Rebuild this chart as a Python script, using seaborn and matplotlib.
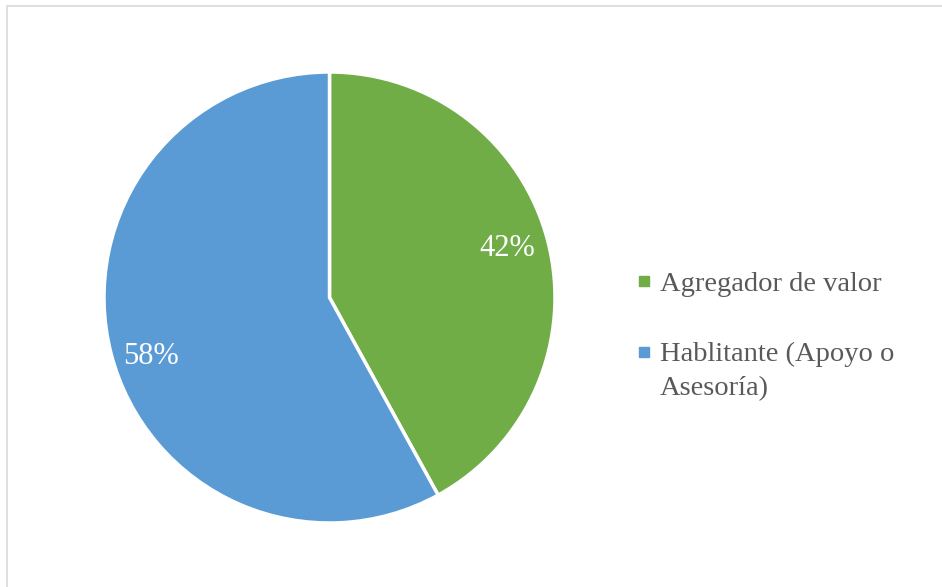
import matplotlib
matplotlib.use("Agg")
import numpy as np
import matplotlib.pyplot as plt
from matplotlib.lines import Line2D
from matplotlib.patches import Rectangle
from matplotlib.legend_handler import HandlerLine2D
import seaborn as sns

categories = ["Agregador de valor", "Hablitante (Apoyo o\nAsesoría)"]
values = [42, 58]
colors = ["#70AD47", "#5B9BD5"]

sns.set_theme(style="white")
plt.rcParams["font.family"] = ["Liberation Serif", "DejaVu Serif"]


class TopLineHandler(HandlerLine2D):
    """Align the marker with the first line of a multi-line label."""
    def __init__(self, shift, **kw):
        super().__init__(**kw)
        self.shift = shift

    def create_artists(self, legend, orig_handle, xdescent, ydescent,
                       width, height, fontsize, trans):
        arts = super().create_artists(legend, orig_handle, xdescent, ydescent,
                                      width, height, fontsize, trans)
        for a in arts:
            if isinstance(a, Line2D):
                a.set_ydata(np.asarray(a.get_ydata()) + self.shift)
        return arts


fig = plt.figure(figsize=(9.42, 5.87), dpi=100)
fig.patch.set_facecolor("white")
fig.add_artist(Rectangle((7/942, -0.1), 1.2, (587-6)/587 + 0.1, transform=fig.transFigure,
                         fill=False, edgecolor="#D9D9D9", linewidth=1.2))

ax = fig.add_axes([104/942, 64/587, 451/942, 451/587])
wedges, texts, autotexts = ax.pie(
    values, colors=colors, startangle=90, counterclock=False,
    autopct=lambda p: f"{p:.0f}%", pctdistance=0.825,
    wedgeprops=dict(edgecolor="white", linewidth=2.5),
    textprops=dict(color="white", fontsize=22), radius=1.0)
for w, t in zip(wedges, autotexts):
    ang = np.deg2rad((w.theta1 + w.theta2) / 2 + 2.5)
    t.set_position((0.825 * np.cos(ang), 0.825 * np.sin(ang) - 0.022))
ax.set_xlim(-1, 1)
ax.set_ylim(-1, 1)
ax.set_aspect("equal")
ax.axis("off")

handles = [Line2D([0], [0], marker="s", linestyle="none", markersize=7.2,
                  markerfacecolor=c, markeredgecolor=c) for c in colors]
leg = fig.legend(handles, categories, loc="upper left",
                 bbox_to_anchor=(625.5/942, 1 - 260/587), frameon=False,
                 fontsize=20.5, handlelength=0.5, handletextpad=0.31,
                 labelspacing=1.55, borderaxespad=0,
                 handler_map={handles[1]: TopLineHandler(shift=13.5)})
for t in leg.get_texts():
    t.set_color("#595959")
    t.set_linespacing(1.52)
for h in leg.legend_handles:
    pass

fig.savefig("out.png", dpi=100, facecolor="white")
